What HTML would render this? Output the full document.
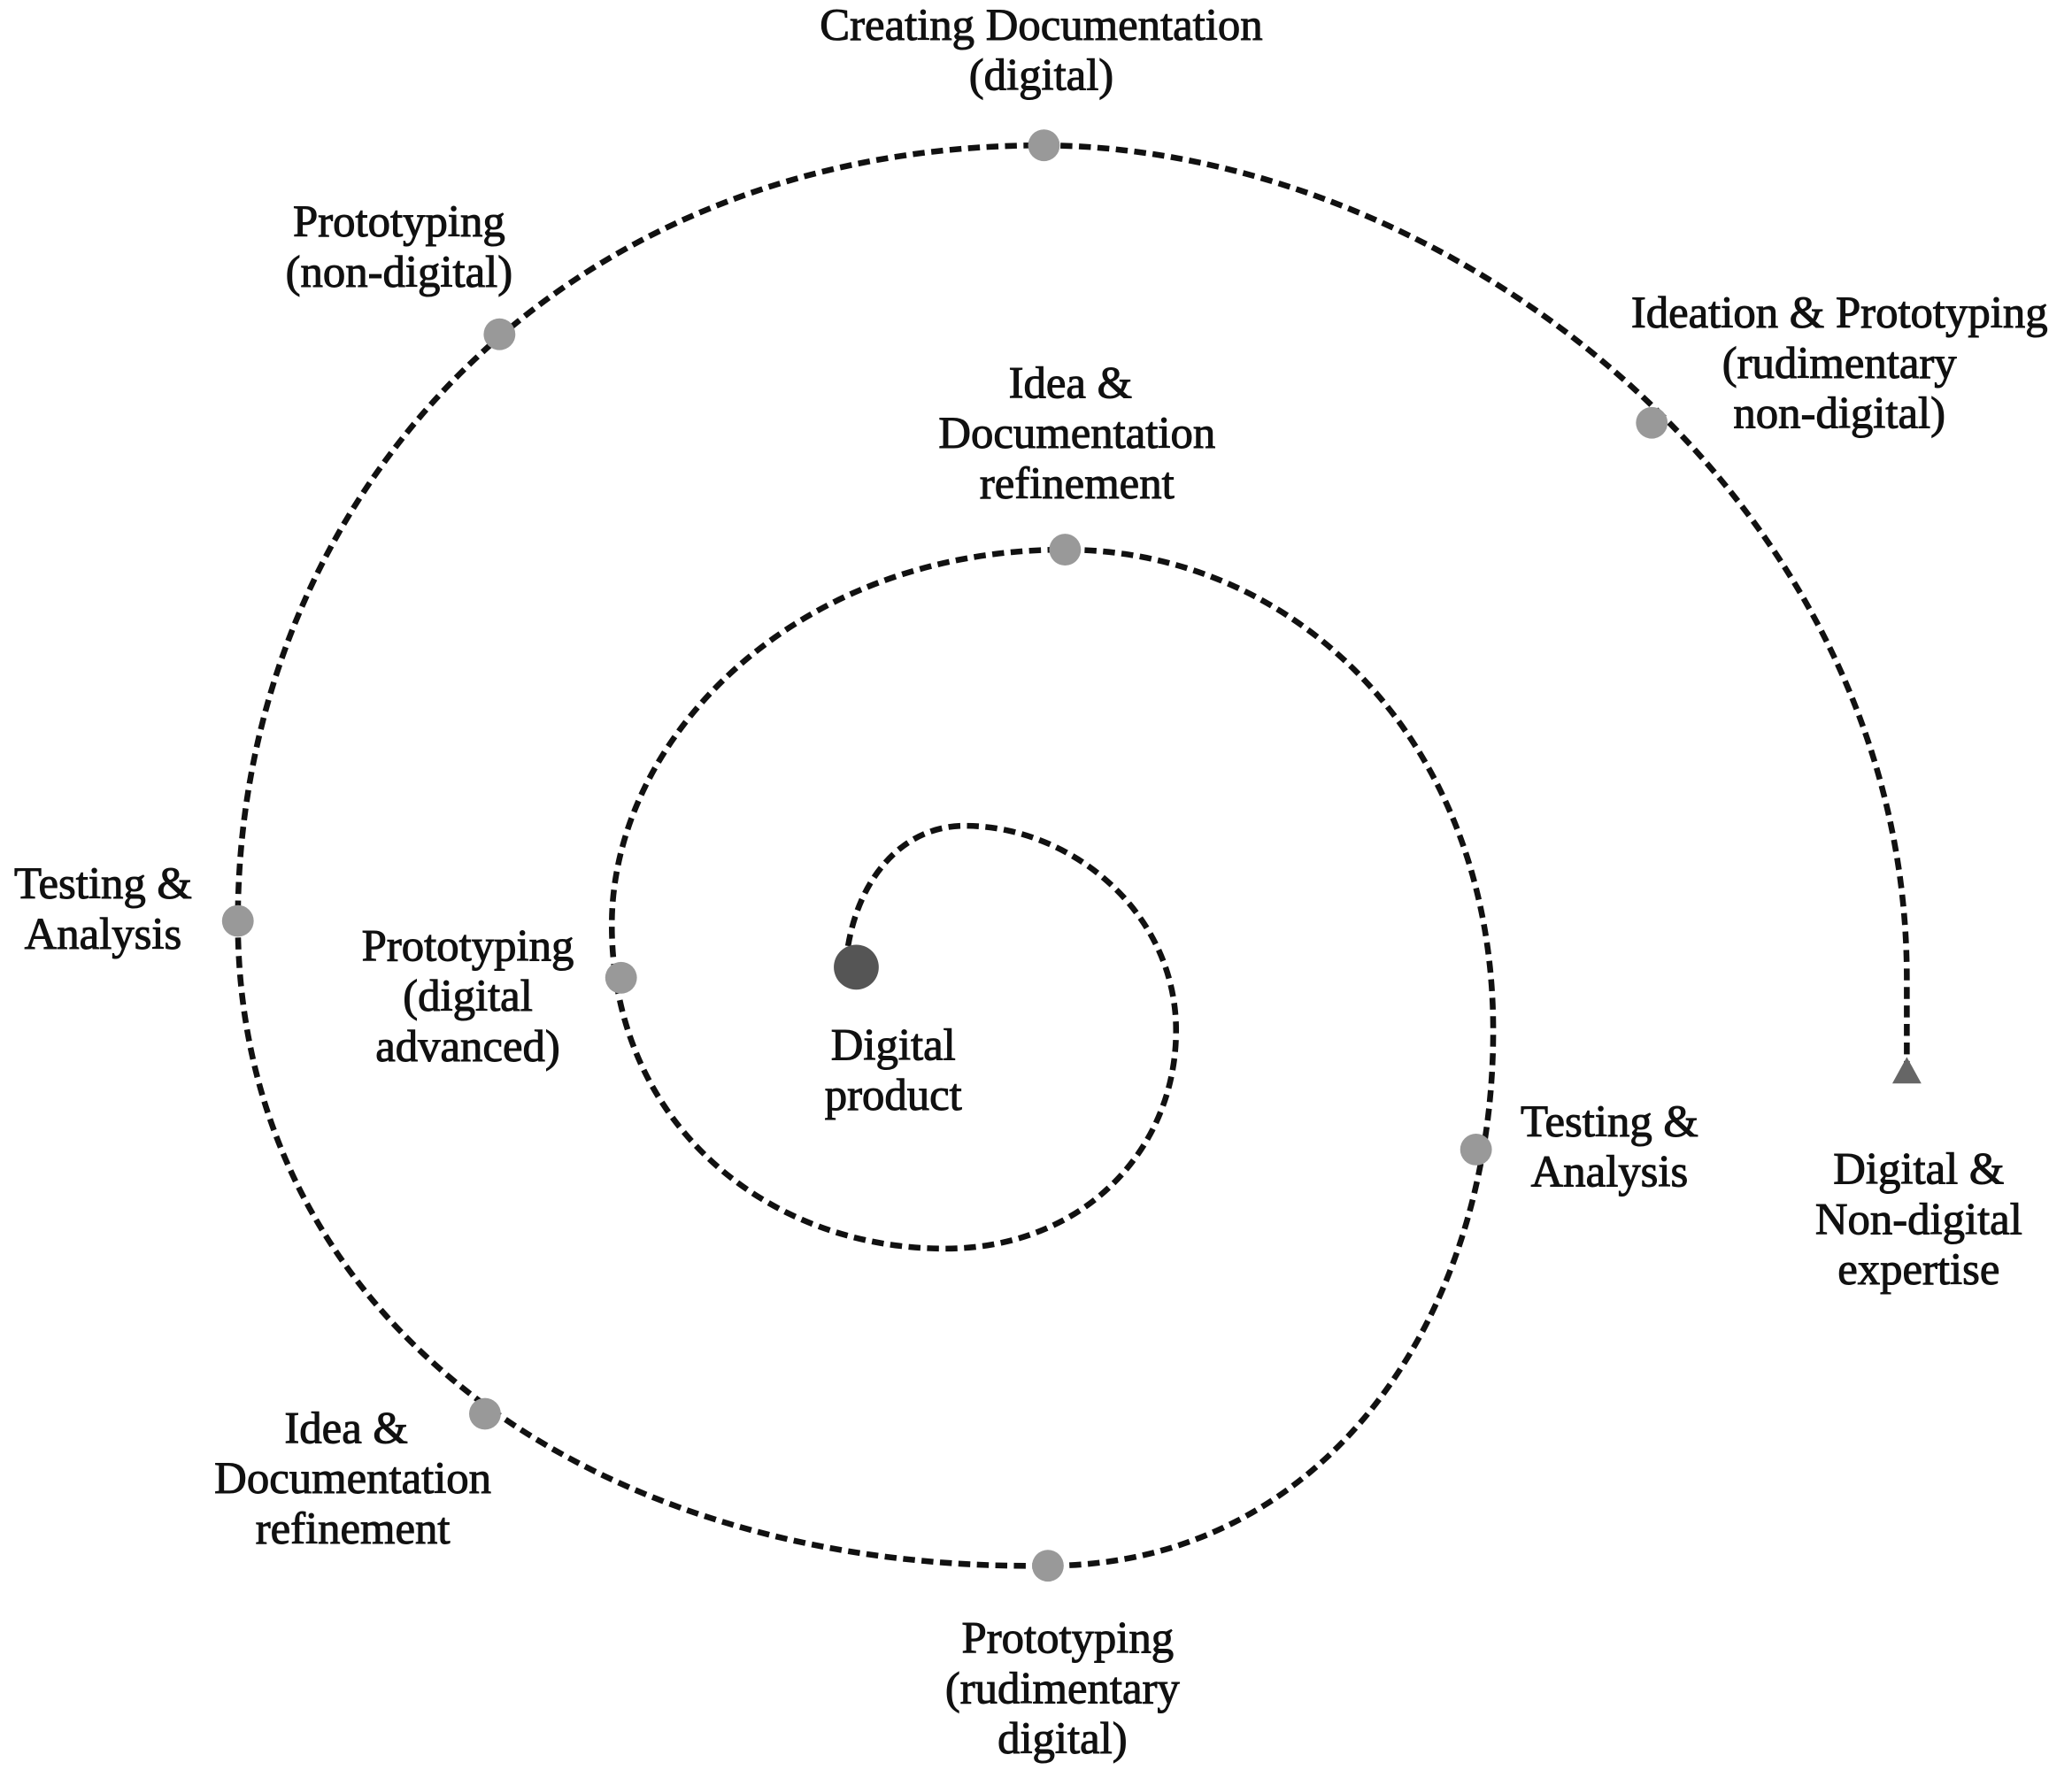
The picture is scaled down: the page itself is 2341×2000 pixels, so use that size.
<!DOCTYPE html>
<html><head><meta charset="utf-8"><style>
html,body{margin:0;padding:0;background:#fff;}
svg{display:block;}
text{font-family:"Liberation Serif",serif;font-size:34px;fill:#111;stroke:#111;stroke-width:0.7;text-anchor:middle;}
</style></head><body>
<svg width="2341" height="2000" viewBox="0 0 1568 1339.6" preserveAspectRatio="none" xmlns="http://www.w3.org/2000/svg">
<path d="M1443,812 L1443,740 C1443,380 1100,112 790,110 C420,110 180,380 180,697 C180,1000 450,1190 793,1185 C1000,1185 1130,1000 1130,780 C1130,560 980,416 806,416 C600,416 463,560 463,700 C463,850 580,945 715,945 C820,945 890,870 890,780 C890,690 810,625 730,625 C680,625 645,670 640,730"
 fill="none" stroke="#111" stroke-width="4.4" stroke-dasharray="9,5"/>
<g fill="#999">
<circle cx="790" cy="110" r="12"/>
<circle cx="378" cy="253" r="12"/>
<circle cx="1250" cy="320" r="12"/>
<circle cx="180" cy="697" r="12"/>
<circle cx="367" cy="1070" r="12"/>
<circle cx="793" cy="1185" r="12"/>
<circle cx="1117" cy="870" r="12"/>
<circle cx="806" cy="416" r="12"/>
<circle cx="470" cy="740" r="12"/>
</g>
<circle cx="648" cy="732" r="17" fill="#555"/>
<polygon points="1443,800 1432,820 1454,820" fill="#666"/>
<text x="788" y="30">Creating Documentation</text>
<text x="788" y="68">(digital)</text>
<text x="302" y="179">Prototyping</text>
<text x="302" y="217">(non-digital)</text>
<text x="1392" y="248">Ideation &amp; Prototyping</text>
<text x="1392" y="286">(rudimentary</text>
<text x="1392" y="324">non-digital)</text>
<text x="810" y="301">Idea &amp;</text>
<text x="815" y="339">Documentation</text>
<text x="815" y="377">refinement</text>
<text x="78" y="680">Testing &amp;</text>
<text x="78" y="718">Analysis</text>
<text x="354" y="727">Prototyping</text>
<text x="354" y="765">(digital</text>
<text x="354" y="803">advanced)</text>
<text x="676" y="802">Digital</text>
<text x="676" y="840">product</text>
<text x="1218" y="860">Testing &amp;</text>
<text x="1218" y="898">Analysis</text>
<text x="1452" y="896">Digital &amp;</text>
<text x="1452" y="934">Non-digital</text>
<text x="1452" y="972">expertise</text>
<text x="262" y="1092">Idea &amp;</text>
<text x="267" y="1130">Documentation</text>
<text x="267" y="1168">refinement</text>
<text x="808" y="1251">Prototyping</text>
<text x="804" y="1289">(rudimentary</text>
<text x="804" y="1327">digital)</text>
</svg>
</body></html>
